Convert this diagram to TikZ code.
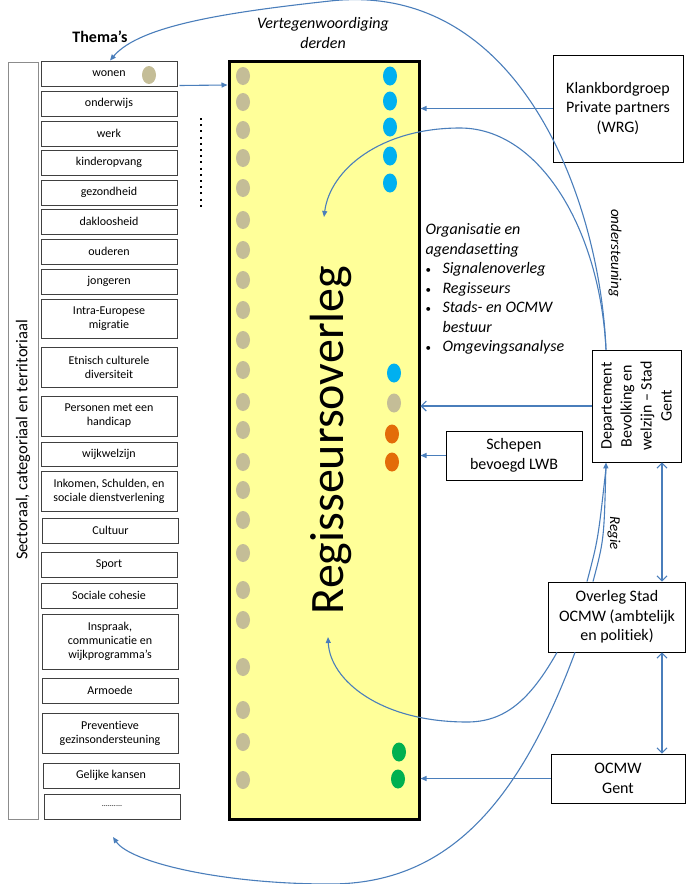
\documentclass[tikz,border=0pt]{standalone}
\usepackage{fontspec}
\setmainfont{Carlito}[Ligatures={NoCommon}]
\usetikzlibrary{arrows.meta}
\definecolor{lijnblauw}{HTML}{4A7EBB}
\definecolor{regiegeel}{HTML}{FFFF99}
\definecolor{bolbeige}{HTML}{C4BD97}
\definecolor{bolblauw}{HTML}{00B0F0}
\definecolor{bolorange}{HTML}{E36C09}
\definecolor{bolgroen}{HTML}{00B050}
\newcommand{\opsom}{\makebox[17pt][l]{\upshape\fontsize{11}{11}\selectfont\textbullet}}
\tikzset{
  thema/.style={draw=black!75, line width=1pt, minimum width=136pt, minimum height=25pt,
    align=center, inner sep=1pt, font=\fontsize{12}{14}\selectfont},
  partner/.style={draw, line width=0.8pt, align=center, inner sep=1pt,
    font=\fontsize{16}{19.5}\selectfont},
  pijl/.style={lijnblauw, line width=1.1pt, -{Triangle[length=6pt,width=5pt]}},
  openpijl/.style={lijnblauw, line width=1.1pt, -{Straight Barb[length=5pt,width=10pt]}},
  dubbelpijl/.style={lijnblauw, line width=1.1pt, {Straight Barb[length=5pt,width=10pt]}-{Straight Barb[length=5pt,width=10pt]}},
  label/.style={font=\itshape\fontsize{16}{19.5}\selectfont, align=center}
}
\begin{document}
\begin{tikzpicture}[x=1pt,y=-1pt]
  \useasboundingbox (0,0) rectangle (686,884);
  % kolom met thema's
  \node[font=\bfseries\fontsize{16}{18}\selectfont] (themakop) at (100,37) {Thema’s};
  \node[draw=black!45, line width=1pt, minimum width=30pt, minimum height=757pt] (zijbalk) at (23,440.5) {};
  \node[rotate=90, font=\fontsize{16.5}{18}\selectfont] (zijtekst) at (23,440) {Sectoraal, categoriaal en territoriaal};
  \node[thema] (wonen) at (109,73.5) {wonen};
  \node[thema] (onderwijs) at (109,103.5) {onderwijs};
  \node[thema] (werk) at (109,133.5) {werk};
  \node[thema] (kinderopvang) at (109,162.5) {kinderopvang};
  \node[thema] (gezondheid) at (109,192.5) {gezondheid};
  \node[thema] (dakloos) at (109,221.5) {dakloosheid};
  \node[thema] (ouderen) at (109,251.5) {ouderen};
  \node[thema] (jongeren) at (109,281.5) {jongeren};
  \node[thema, minimum height=39pt] (migratie) at (109,318.5) {Intra-Europese\\migratie};
  \node[thema, minimum height=40pt] (diversiteit) at (109,367) {Etnisch culturele\\diversiteit};
  \node[thema, minimum height=40pt] (handicap) at (109,416) {Personen met een\\handicap};
  \node[thema, minimum height=24pt] (wijkwelzijn) at (109,454) {wijkwelzijn};
  \node[thema, minimum height=40pt] (inkomen) at (109,491) {Inkomen, Schulden, en\\sociale dienstverlening};
  \node[thema] (cultuur) at (110.5,530.5) {Cultuur};
  \node[thema] (sport) at (109,564.5) {Sport};
  \node[thema] (cohesie) at (109,595.5) {Sociale cohesie};
  \node[thema, minimum height=55pt] (inspraak) at (110,641.5) {Inspraak,\\communicatie en\\wijkprogramma’s};
  \node[thema] (armoede) at (110,690.5) {Armoede};
  \node[thema, minimum height=40pt] (preventie) at (110,733) {Preventieve\\gezinsondersteuning};
  \node[thema] (kansen) at (111,775.5) {Gelijke kansen};
  \node[thema, font=\fontsize{8}{10}\selectfont] (verder) at (112,806.5) {..........};
  \fill[bolbeige] (149,75) ellipse (7 and 9);
  \draw[line width=2pt, dash pattern=on 2pt off 4.2pt] (201,118) -- (201,208);
  % regisseursoverleg
  \node[draw, line width=3pt, fill=regiegeel, minimum width=190pt, minimum height=758pt] (regie) at (324,440) {};
  \node[rotate=90, font=\fontsize{48}{50}\selectfont] (regietekst) at (331,440) {Regisseursoverleg};
  \foreach \y in {76,102,130,158,188,220,250,280,310,340,370,402,430,462,490,520,553,590,620,667,710,742,780}
    \fill[bolbeige] (243,\y) ellipse (7 and 9);
  \foreach \y in {76,101,127,156,183}
    \fill[bolblauw] (390,\y) ellipse (7 and 9.5);
  \fill[bolblauw] (394,373) ellipse (7 and 9.5);
  \fill[bolbeige] (394,403) ellipse (7 and 9.5);
  \fill[bolorange] (392,434) ellipse (7 and 9.5);
  \fill[bolorange] (392,462) ellipse (7 and 9.5);
  \fill[bolgroen] (399,752) ellipse (7 and 9.5);
  \fill[bolgroen] (398,779) ellipse (7 and 9.5);
  \node[label] (derden) at (323,33) {Vertegenwoordiging\\derden};
  \node[label, anchor=north west, align=left] (agenda) at (422,220) {Organisatie en\\agendasetting\\
    \opsom Signalenoverleg\\
    \opsom Regisseurs\\
    \opsom Stads- en OCMW\\
    \hspace*{17pt}bestuur\\
    \opsom Omgevingsanalyse};
  % partners rechts
  \node[partner, minimum width=130pt, minimum height=107pt] (wrg) at (618,108.5) {Klankbordgroep\\Private partners\\(WRG)};
  \node[partner, minimum width=89pt, minimum height=112pt] (dept) at (636.5,406) {};
  \node[rotate=90, align=center, font=\fontsize{16}{20}\selectfont] (depttekst) at (dept.center) {Departement\\Bevolking en\\welzijn – Stad\\Gent};
  \node[partner, minimum width=136pt, minimum height=49pt] (schepen) at (514,455.5) {Schepen\\bevoegd LWB};
  \node[partner, minimum width=137pt, minimum height=70pt] (overleg) at (617,617) {Overleg Stad\\OCMW (ambtelijk\\en politiek)};
  \node[partner, minimum width=134pt, minimum height=49pt] (ocmw) at (618,778.5) {OCMW\\Gent};
  \coordinate (inregie1) at (324,217);
  \coordinate (inregie2) at (328,637);
  \coordinate (onderthema) at (113,837);
  % verbindingen
  \draw[pijl] ([xshift=2pt,yshift=1pt]wonen.south east) -- (regie.west |- 0,85);
  \draw[pijl] (wrg.west) -- (regie.east |- wrg.west);
  \draw[openpijl] (dept.west) -- (regie.east |- dept.west);
  \draw[pijl] (schepen.west) -- (regie.east |- schepen.west);
  \draw[pijl] (ocmw.west) -- (regie.east |- ocmw.west);
  \draw[dubbelpijl] (dept.south -| 662,0) -- (overleg.north -| 662,0);
  \draw[dubbelpijl] (overleg.south -| 662,0) -- (ocmw.north -| 662,0);
  \draw[pijl] (dept.north -| 606,0) .. controls (600,200) and (520,-20) .. (330,1) .. controls (230,12) and (140,25) .. (wonen.north -| 110,0);
  \draw[pijl] (dept.north -| 606,0) .. controls (600,230) and (540,128) .. (460,128) .. controls (380,128) and (330,170) .. (inregie1);
  \draw[lijnblauw, line width=1.1pt] (overleg.north -| 587,0) .. controls (598,540) .. (606,468);
  \draw[pijl] (overleg.north -| 593,0) .. controls (604,540) .. (dept.south -| 606,0);
  \draw[pijl] (overleg.south -| 557,0) .. controls (530,700) and (505,722) .. (467,722) .. controls (380,722) and (330,680) .. (inregie2);
  \draw[pijl] (overleg.south -| 575,0) .. controls (520,800) and (450,884) .. (330,884) .. controls (220,884) and (130,862) .. (onderthema);
  \node[rotate=-90, font=\itshape\fontsize{15}{16}\selectfont] (ondersteuning) at (615,253) {ondersteuning};
  \node[rotate=-90, font=\itshape\fontsize{15}{16}\selectfont] (regielabel) at (614,533) {Regie};
\end{tikzpicture}
\end{document}
